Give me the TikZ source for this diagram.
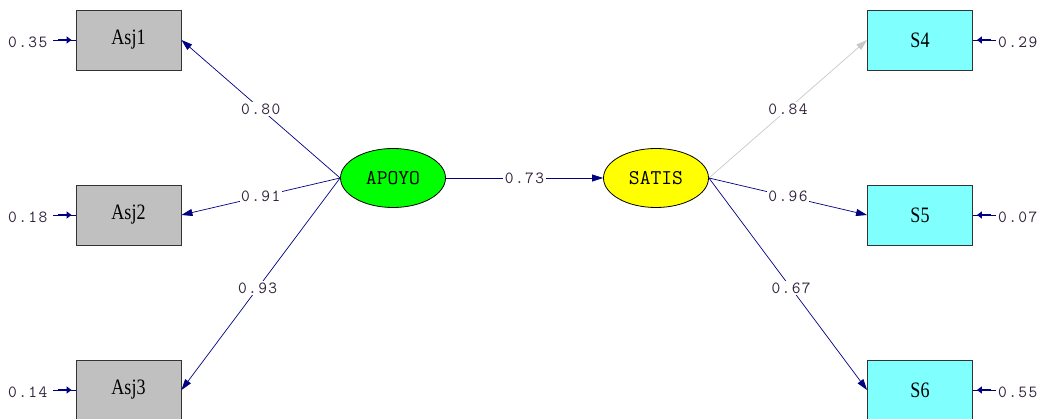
\documentclass[tikz,border=0pt]{standalone}
\usepackage{fontspec}
\setmainfont{Liberation Serif}
\newfontfamily\boxfont[FakeStretch=0.82]{Liberation Serif}
\newfontfamily\numfont[LetterSpace=8]{Latin Modern Mono}
\newfontfamily\latfont{Latin Modern Mono}
\usetikzlibrary{shapes.geometric,arrows.meta}
\definecolor{navyline}{RGB}{0,0,128}
\definecolor{boxgray}{RGB}{192,192,192}
\definecolor{boxcyan}{RGB}{128,255,255}
\definecolor{latgreen}{RGB}{0,255,0}
\definecolor{latyellow}{RGB}{255,255,0}
\definecolor{numcol}{RGB}{50,35,60}
\definecolor{lightarrow}{RGB}{200,200,200}
\tikzset{
  obsbox/.style={draw=black!80, line width=0.9pt, rectangle, minimum width=105pt, minimum height=60pt, inner sep=0pt, font=\boxfont\fontsize{22}{24}\selectfont},
  latent/.style={draw=black, line width=0.8pt, ellipse, minimum width=105pt, minimum height=59pt, inner sep=0pt, font=\latfont\fontsize{21}{23}\selectfont},
  path/.style={draw=navyline, line width=0.7pt, -{Triangle[length=11pt,width=7pt]}},
  grpath/.style={draw=lightarrow, line width=0.7pt, -{Triangle[length=11pt,width=7pt]}},
  errline/.style={draw=navyline, line width=0.8pt},
  errtip/.style={draw=navyline, line width=2.6pt, -{Triangle[length=5pt,width=7pt]}, shorten >=4pt, shorten <=5pt},
  coef/.style={fill=white, inner sep=1.5pt, text=numcol, font=\numfont\fontsize{17}{19}\selectfont},
  errlab/.style={inner sep=0pt, text=numcol, font=\numfont\fontsize{17}{19}\selectfont}
}
\begin{document}
\begin{tikzpicture}[x=1pt,y=-1pt]
\useasboundingbox (0,0) rectangle (1043,419);
\clip (0,0) rectangle (1043,419);
% observed variables
\node[obsbox, fill=boxgray] (asj1) at (128.5,40) {Asj1};
\node[obsbox, fill=boxgray] (asj2) at (128.5,215) {Asj2};
\node[obsbox, fill=boxgray] (asj3) at (128.5,390) {Asj3};
\node[obsbox, fill=boxcyan] (s4) at (920,40) {S4};
\node[obsbox, fill=boxcyan] (s5) at (920,215) {S5};
\node[obsbox, fill=boxcyan] (s6) at (920,390) {S6};
% latent variables
\node[latent, fill=latgreen] (apoyo) at (393,178) {APOYO};
\node[latent, fill=latyellow] (satis) at (656,178) {SATIS};
% loadings
\draw[path] (apoyo.west) -- node[coef, pos=0.5] {0.80} (asj1.east);
\draw[path] (apoyo.west) -- node[coef, pos=0.5] {0.91} (asj2.east);
\draw[path] (apoyo.west) -- node[coef, pos=0.52] {0.93} (asj3.east);
\draw[grpath] (satis.east) -- node[coef, pos=0.5] {0.84} (s4.west);
\draw[path] (satis.east) -- node[coef, pos=0.5] {0.96} (s5.west);
\draw[path] (satis.east) -- node[coef, pos=0.52] {0.67} (s6.west);
\draw[path] (apoyo.east) -- node[coef, pos=0.5] {0.73} (satis.west);
% error variances
\node[errlab, anchor=west] (e1) at (8,42) {0.35};
\node[errlab, anchor=west] (e2) at (8,217) {0.18};
\node[errlab, anchor=west] (e3) at (8,392) {0.14};
\node[errlab, anchor=west] (e4) at (998,42) {0.29};
\node[errlab, anchor=west] (e5) at (998,217) {0.07};
\node[errlab, anchor=west] (e6) at (998,392) {0.55};
\coordinate (c1) at (53,40);
\coordinate (c2) at (53,215);
\coordinate (c3) at (53,390);
\coordinate (c4) at (996,40);
\coordinate (c5) at (996,215);
\coordinate (c6) at (996,390);
\foreach \c/\b/\a in {c1/asj1/west, c2/asj2/west, c3/asj3/west, c4/s4/east, c5/s5/east, c6/s6/east}{
  \draw[errline] (\c) -- (\b.\a);
  \draw[errtip] (\c) -- (\b.\a);
}
\end{tikzpicture}
\end{document}
